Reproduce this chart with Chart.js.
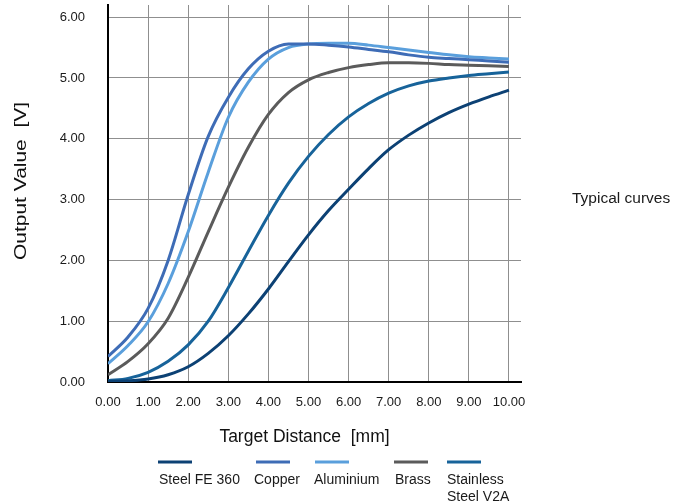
<!DOCTYPE html>
<html>
<head>
<meta charset="utf-8">
<script src="https://cdn.jsdelivr.net/npm/chart.js@4.4.1/dist/chart.umd.min.js"></script>
<style>
  html, body { margin: 0; padding: 0; background: #fff; }
  #wrap { width: 688px; height: 504px; position: relative; }
</style>
</head>
<body>
<div id="wrap"><canvas id="c" width="688" height="504"></canvas></div>
<script>
// ---- Data ----
const distances = [0, 0.5, 1, 1.5, 2, 2.5, 3, 3.5, 4, 4.5, 5, 5.5, 6, 6.5, 7, 7.5, 8, 8.5, 9, 9.5, 10];

const steelFE360   = [0.01, 0.02, 0.05, 0.12, 0.25, 0.47, 0.76, 1.12, 1.53, 1.98, 2.42, 2.82, 3.17, 3.51, 3.82, 4.06, 4.26, 4.43, 4.57, 4.69, 4.80];
const copper       = [0.42, 0.74, 1.21, 2.00, 3.08, 4.04, 4.68, 5.15, 5.44, 5.56, 5.56, 5.54, 5.51, 5.47, 5.43, 5.38, 5.34, 5.32, 5.30, 5.28, 5.26];
const aluminium    = [0.30, 0.60, 0.99, 1.62, 2.47, 3.45, 4.35, 4.93, 5.31, 5.50, 5.56, 5.57, 5.57, 5.54, 5.50, 5.46, 5.42, 5.38, 5.35, 5.33, 5.31];
const brass        = [0.12, 0.34, 0.63, 1.05, 1.72, 2.47, 3.20, 3.86, 4.40, 4.76, 4.97, 5.09, 5.17, 5.22, 5.25, 5.25, 5.24, 5.22, 5.21, 5.20, 5.19];
const stainlessV2A = [0.02, 0.06, 0.16, 0.34, 0.61, 1.00, 1.55, 2.15, 2.74, 3.27, 3.71, 4.07, 4.36, 4.58, 4.75, 4.87, 4.95, 5.00, 5.04, 5.07, 5.10];

const seriesNames  = ['Steel FE 360', 'Copper', 'Aluminium', 'Brass', 'Stainless Steel V2A'];
const seriesValues = [steelFE360, copper, aluminium, brass, stainlessV2A];
const seriesColors = ['#0c4174', '#3e6cb6', '#5a9fdc', '#5b5b5b', '#17639a'];

const xTitle = 'Target Distance  [mm]';
const yTitle = 'Output Value  [V]';
const sideNote = 'Typical curves';

// ---- Build chart ----
const FONT = '"Liberation Sans", Arial, Helvetica, sans-serif';
Chart.defaults.font.family = FONT;
Chart.defaults.color = '#1a1a1a';

const datasets = seriesNames.map((name, i) => ({
  label: name,
  data: distances.map((d, k) => ({ x: d, y: seriesValues[i][k] })),
  borderColor: seriesColors[i],
  backgroundColor: seriesColors[i],
  borderWidth: 3,
  pointRadius: 0,
  cubicInterpolationMode: 'monotone',
  fill: false
}));

// legend / title layout (positions only)
const legendX = [158, 256, 315, 394, 447];
const legendTextDx = [1, -2, -1, 1, 0];
const legendWrap = [false, false, false, false, true];

const customText = {
  id: 'customText',
  afterDraw(chart) {
    const ctx = chart.ctx;
    const area = chart.chartArea;
    ctx.save();
    ctx.fillStyle = '#1a1a1a';
    ctx.textBaseline = 'middle';

    // axis titles
    ctx.font = '17.5px ' + FONT;
    ctx.fillStyle = '#111';
    ctx.textAlign = 'center';
    const xs = chart.scales.x;
    ctx.fillText(xTitle, (xs.getPixelForValue(0) + xs.getPixelForValue(10)) / 2 - 4, 437);

    ctx.save();
    ctx.font = '16.5px ' + FONT;
    ctx.translate(21, 181);
    ctx.rotate(-Math.PI / 2);
    ctx.scale(1.27, 1);
    ctx.fillText(yTitle, 0, 0);
    ctx.restore();

    // side note
    ctx.textAlign = 'left';
    ctx.fillStyle = '#1a1a1a';
    ctx.font = '15.5px ' + FONT;
    ctx.fillText(sideNote, area.right + 51, 199);

    // legend: swatch above label
    chart.data.datasets.forEach((ds, i) => {
      const x = legendX[i];
      ctx.strokeStyle = ds.borderColor;
      ctx.lineWidth = 3;
      ctx.beginPath();
      ctx.moveTo(x, 462);
      ctx.lineTo(x + 34, 462);
      ctx.stroke();
      ctx.font = '14px ' + FONT;
      ctx.fillStyle = '#1a1a1a';
      let lines = [ds.label];
      if (legendWrap[i]) {
        const words = ds.label.split(' ');
        lines = [words[0], words.slice(1).join(' ')];
      }
      lines.forEach((ln, j) => {
        ctx.fillText(ln, x + legendTextDx[i], 480.5 + j * 16.5);
      });
    });
    ctx.restore();
  }
};

new Chart(document.getElementById('c'), {
  type: 'line',
  data: { datasets },
  options: {
    responsive: false,
    animation: false,
    devicePixelRatio: 1,
    layout: { padding: { left: 0, top: 5, right: 167, bottom: 56 } },
    plugins: {
      legend: { display: false },
      tooltip: { enabled: false }
    },
    scales: {
      x: {
        type: 'linear',
        min: 0,
        max: 10.3,
        ticks: {
          stepSize: 1,
          includeBounds: false,
          padding: 13,
          font: { size: 13 },
          color: '#1a1a1a',
          maxRotation: 0,
          callback: v => Number(v).toFixed(2)
        },
        grid: { color: '#8f8f8f', lineWidth: 1, drawTicks: false },
        border: { color: '#000', width: 2 },
        title: { display: false, text: xTitle },
        afterFit: s => { s.height = 66; s.paddingLeft = 0; s.paddingRight = 0; }
      },
      y: {
        min: 0,
        max: 6.2,
        ticks: {
          stepSize: 1,
          includeBounds: false,
          padding: 23,
          font: { size: 13 },
          color: '#1a1a1a',
          callback: v => Number(v).toFixed(2)
        },
        grid: { color: '#8f8f8f', lineWidth: 1, drawTicks: false },
        border: { color: '#000', width: 2 },
        title: { display: false, text: yTitle },
        afterFit: s => { s.width = 108; s.paddingTop = 0; s.paddingBottom = 0; }
      }
    }
  },
  plugins: [customText]
});
</script>
</body>
</html>
